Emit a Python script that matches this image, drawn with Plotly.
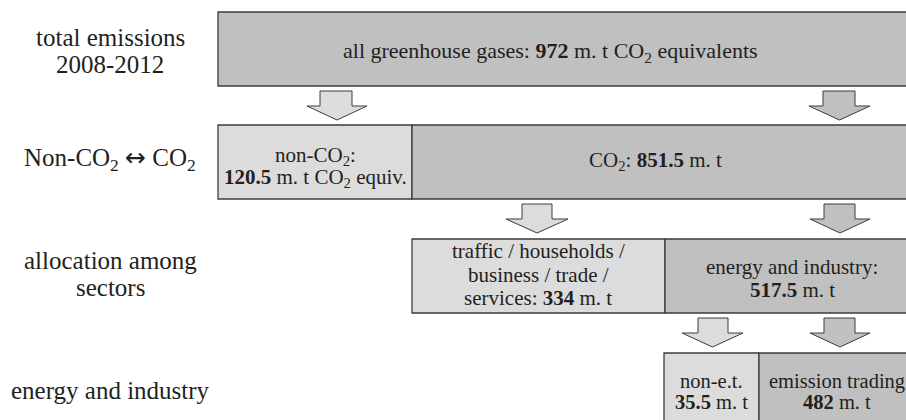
import plotly.graph_objects as go

# ---- data ----
stage_labels = [["total emissions", "2008-2012"],
                ["Non-CO<sub>2</sub> <span style=\"font-family:DejaVu Sans\">↔</span> CO<sub>2</sub>"],
                ["allocation among", "sectors"],
                ["energy and industry"]]
box_names = ["all greenhouse gases", "non-CO2", "CO2",
             "traffic / households / business / trade / services",
             "energy and industry", "non-e.t.", "emission trading"]
box_values = [972, 120.5, 851.5, 334, 517.5, 35.5, 482]

# ---- layout geometry (pixels) ----
W, H = 906, 420
rows_y = [(12, 86), (125, 199), (239, 313), (353, 430)]
boxes = [  # (row, x0, x1, fill)
    (0, 218, 912, "dark"),
    (1, 218, 412, "light"),
    (1, 412, 912, "dark"),
    (2, 412, 665, "light"),
    (2, 665, 912, "dark"),
    (3, 664, 759, "light"),
    (3, 759, 912, "dark"),
]
arrows = [  # (top, outer x0, x1, shaft x0, x1, fill)
    (91, 307, 367, 320, 352, "light"),
    (91, 809, 870, 823, 855, "dark"),
    (204, 506, 568, 522, 552, "light"),
    (204, 810, 870, 824, 855, "dark"),
    (318, 682, 743, 698, 728, "light"),
    (318, 810, 870, 824, 855, "dark"),
]
fills = {"light": "#dcdcdc", "dark": "#c0c0c0"}
edge = "#3c3c3c"
txt = "#231f20"
serif = "Liberation Serif, Times New Roman, serif"


def fmt(v):
    return ("%g" % v)


v = box_values
box_lines = [
    [(52, "all greenhouse gases: <b>%s</b> m. t CO<sub>2</sub> equivalents" % fmt(v[0]), 22)],
    [(156, "non-CO<sub>2</sub>:", 21), (178, "<b>%s</b> m. t CO<sub>2</sub> equiv." % fmt(v[1]), 21)],
    [(161, "CO<sub>2</sub>: <b>%s</b> m. t" % fmt(v[2]), 21)],
    [(251, "traffic / households /", 21), (275, "business / trade /", 21),
     (298, "services: <b>%s</b> m. t" % fmt(v[3]), 21)],
    [(267, "energy and industry:", 21), (290, "<b>%s</b> m. t" % fmt(v[4]), 21)],
    [(381, "non-e.t.", 20.5), (402, "<b>%s</b> m. t" % fmt(v[5]), 20.5)],
    [(381, "emission trading", 20.5), (402, "<b>%s</b> m. t" % fmt(v[6]), 20.5)],
]
box_text_cx = [550, 315, 655, 538, 792, 711, 837]
stage_y = [[37, 64], [159], [260, 287], [390]]

fig = go.Figure()
fig.add_trace(go.Scatter(x=[0, W], y=[0, H], mode="markers",
                         marker=dict(opacity=0), hoverinfo="skip", showlegend=False))

shapes = []
for (r, x0, x1, f) in boxes:
    y0, y1 = rows_y[r]
    shapes.append(dict(type="rect", xref="x", yref="y", x0=x0, x1=x1, y0=y0, y1=y1,
                       fillcolor=fills[f], line=dict(color=edge, width=1.3), layer="above"))
for (top, ox0, ox1, sx0, sx1, f) in arrows:
    head = top + 15
    tip = top + 29
    cx = (ox0 + ox1) / 2
    path = (f"M {sx0},{top} L {sx1},{top} L {sx1},{head} L {ox1},{head} "
            f"L {cx},{tip} L {ox0},{head} L {sx0},{head} Z")
    shapes.append(dict(type="path", xref="x", yref="y", path=path,
                       fillcolor=fills[f], line=dict(color=edge, width=1), layer="above"))

annotations = []
for lines, ys in zip(stage_labels, stage_y):
    for t, y in zip(lines, ys):
        annotations.append(dict(x=110, y=y, xref="x", yref="y", text=t, showarrow=False,
                                xanchor="center", yanchor="middle",
                                font=dict(family=serif, size=25, color=txt)))
for lines, cx in zip(box_lines, box_text_cx):
    for y, t, s in lines:
        annotations.append(dict(x=cx, y=y, xref="x", yref="y", text=t, showarrow=False,
                                xanchor="center", yanchor="middle",
                                font=dict(family=serif, size=s, color=txt)))

fig.update_layout(
    width=W, height=H, margin=dict(l=0, r=0, t=0, b=0),
    paper_bgcolor="white", plot_bgcolor="white",
    xaxis=dict(range=[0, W], visible=False, fixedrange=True),
    yaxis=dict(range=[H, 0], visible=False, fixedrange=True),
    shapes=shapes, annotations=annotations, showlegend=False,
)
fig.write_html("out.html", config={"displayModeBar": False},
               post_script="document.body.style.margin='0';document.body.style.overflow='hidden';")
